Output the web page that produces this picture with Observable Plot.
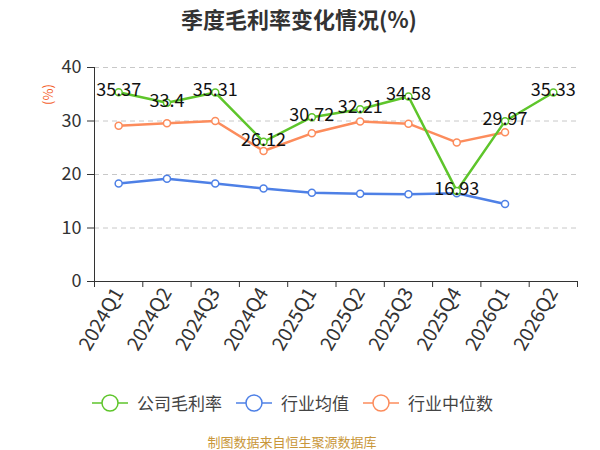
<!DOCTYPE html>
<html><head><meta charset="utf-8">
<script src="https://cdn.jsdelivr.net/npm/d3@7"></script>
<script src="https://cdn.jsdelivr.net/npm/@observablehq/plot@0.6"></script>
<style>
body{margin:0;background:#fff;font-family:"Noto Sans CJK SC","Noto Sans",sans-serif;}
#wrap{position:relative;width:600px;height:450px;overflow:hidden;}
#title{position:absolute;top:2px;left:0;width:598px;text-align:center;font-size:22px;font-weight:bold;color:#333;}
#chart{position:absolute;top:0;left:0;}
#chart svg{overflow:visible;}
#legend{position:absolute;top:390px;left:92px;display:flex;align-items:center;font-size:17px;color:#444;}
.item{display:flex;align-items:center;margin-right:14px;}
.item svg{margin-right:9px;}
#foot{position:absolute;top:432px;left:0;width:584px;text-align:center;font-size:13px;color:#c9973a;}
#unit{position:absolute;left:37px;top:85px;font-size:13px;color:#f4602a;transform:rotate(-90deg);transform-origin:center;}
</style></head>
<body><div id="wrap">
<div id="chart"></div>
<div id="title">季度毛利率变化情况(%)</div>
<div id="unit">(%)</div>
<div id="legend"></div>
<div id="foot">制图数据来自恒生聚源数据库</div>
</div>
<script>
const quarters = ["2024Q1","2024Q2","2024Q3","2024Q4","2025Q1","2025Q2","2025Q3","2025Q4","2026Q1","2026Q2"];
const company = [35.37,33.4,35.31,26.12,30.72,32.21,34.58,16.93,29.97,35.33];
const indMean = [18.3,19.2,18.3,17.4,16.6,16.4,16.3,16.5,14.5,null];
const indMedian = [29.1,29.6,30.0,24.4,27.7,29.9,29.5,26.0,27.9,null];
const seriesNames = ["公司毛利率","行业均值","行业中位数"];
const colors = ["#5ec52b","#4e80e6","#fc8c5c"];
const yTicks = [0,10,20,30,40];

const rows = [];
[company, indMean, indMedian].forEach((arr, s) => {
  arr.forEach((v, i) => { if (v != null) rows.push({s: seriesNames[s], i: i + 0.5, v}); });
});
const compRows = rows.filter(d => d.s === seriesNames[0]);
const order = [seriesNames[2], seriesNames[1], seriesNames[0]];

const plot = Plot.plot({
  width: 600, height: 330,
  marginLeft: 94, marginRight: 23, marginTop: 67, marginBottom: 49,
  style: {fontFamily: '"Noto Sans CJK SC", "Noto Sans", sans-serif', overflow: "visible"},
  x: {type: "linear", domain: [0, quarters.length]},
  y: {domain: [0, 40]},
  color: {domain: seriesNames, range: colors},
  marks: [
    Plot.ruleY(yTicks.filter(t => t > 0), {stroke: "#c8c8c8", strokeDasharray: "5,4", strokeWidth: 1}),
    Plot.axisY({ticks: yTicks, tickSize: 7, tickPadding: 6, fontSize: 18, fill: "#333", stroke: "#333", label: null}),
    Plot.ruleX([0], {stroke: "#333"}),
    Plot.ruleY([0], {stroke: "#333"}),
    Plot.axisX({ticks: d3.range(0, quarters.length + 1), tickSize: 6, tickFormat: () => "", stroke: "#333", label: null}),
    Plot.axisX({ticks: quarters.map((q, i) => i + 0.5), tickSize: 0, tickPadding: 8, tickFormat: (d) => quarters[Math.floor(d)], tickRotate: -60, textAnchor: "end", fontSize: 19.5, fill: "#333", label: null}),
    ...order.map(name => Plot.line(rows.filter(d => d.s === name), {x: "i", y: "v", stroke: colors[seriesNames.indexOf(name)], strokeWidth: 2.5})),
    ...order.map(name => Plot.dot(rows.filter(d => d.s === name), {x: "i", y: "v", r: 3.5, fill: "white", stroke: colors[seriesNames.indexOf(name)], strokeWidth: 1.5})),
    Plot.text(compRows, {x: "i", y: "v", text: d => String(d.v), dy: -2, fontSize: 18, fill: "#111"})
  ]
});
document.getElementById("chart").appendChild(plot);

const legend = document.getElementById("legend");
seriesNames.forEach((n, k) => {
  const it = document.createElement("div");
  it.className = "item";
  it.innerHTML = `<svg width="36" height="20"><line x1="0" y1="10" x2="36" y2="10" stroke="${colors[k]}" stroke-width="1.5"/><circle cx="18" cy="10" r="8" fill="white" stroke="${colors[k]}" stroke-width="1.5"/></svg><span>${n}</span>`;
  legend.appendChild(it);
});
</script>
</body></html>
